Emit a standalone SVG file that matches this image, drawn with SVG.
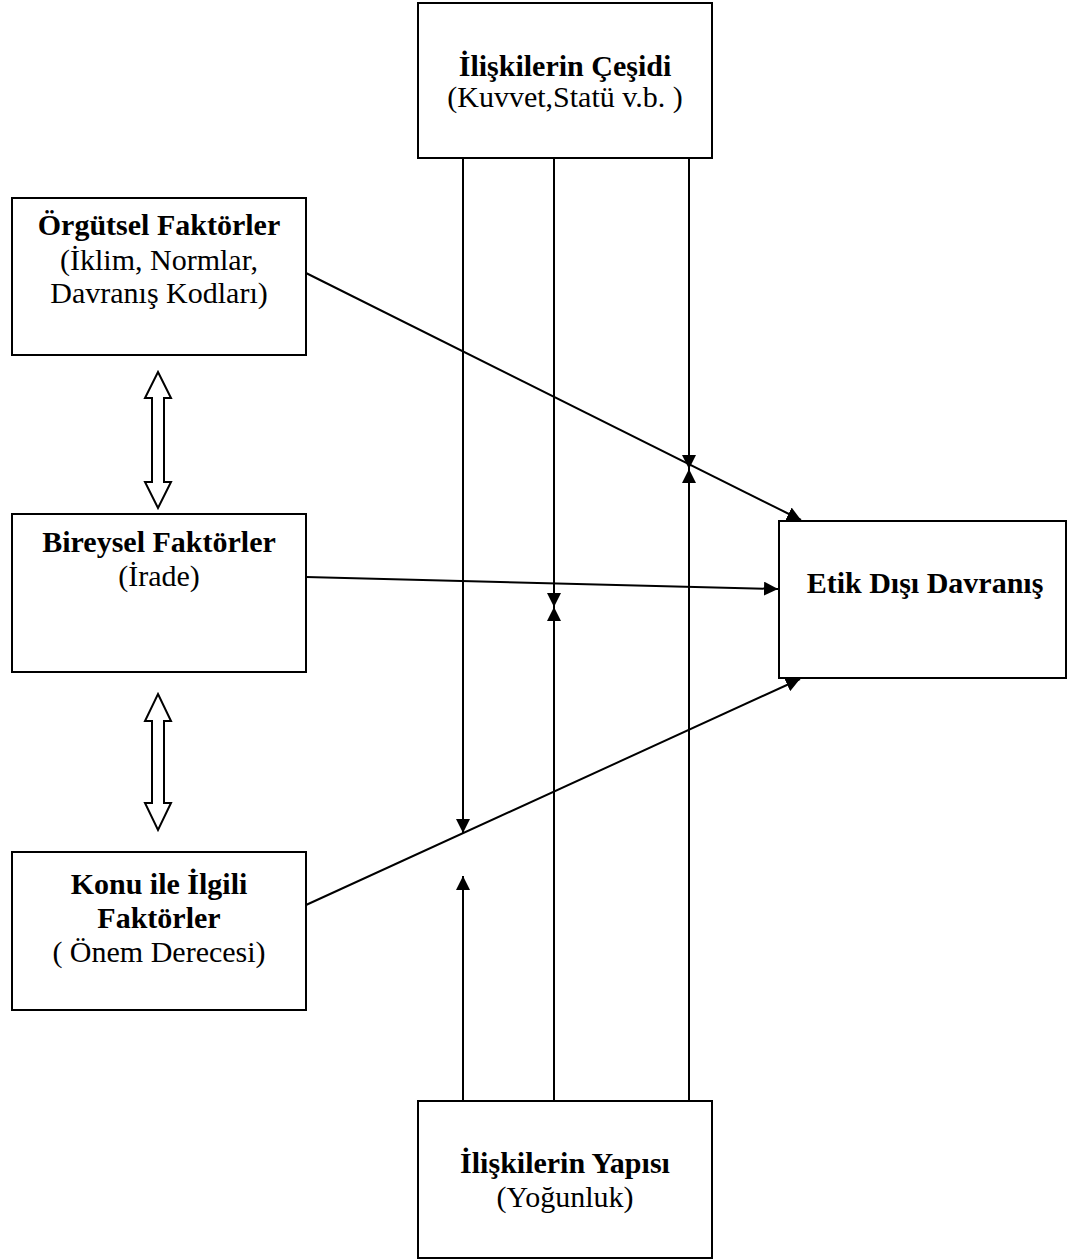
<svg xmlns="http://www.w3.org/2000/svg" width="1068" height="1260" viewBox="0 0 1068 1260">
<style>
.box{fill:#fff;stroke:#000;stroke-width:2}
.t{font-family:"Liberation Serif","Times New Roman",serif;font-size:30px;fill:#000;text-anchor:middle}
.b{font-weight:bold}
.ln{stroke:#000;stroke-width:2;fill:none}
.dbl{fill:#fff;stroke:#000;stroke-width:2;stroke-linejoin:miter}
</style>
<defs>
<marker id="ah" markerUnits="userSpaceOnUse" markerWidth="15" markerHeight="14" refX="14" refY="7" orient="auto" viewBox="0 0 15 14">
<path d="M0,0 L14,7 L0,14 z" fill="#000"/>
</marker>
</defs>
<rect width="1068" height="1260" fill="#fff"/>
<g id="connectors">
<line class="ln" x1="463" y1="158" x2="463" y2="833" marker-end="url(#ah)"/>
<line class="ln" x1="463" y1="1101" x2="463" y2="876" marker-end="url(#ah)"/>
<line class="ln" x1="554" y1="158" x2="554" y2="607" marker-end="url(#ah)"/>
<line class="ln" x1="554" y1="1101" x2="554" y2="607" marker-end="url(#ah)"/>
<line class="ln" x1="689" y1="158" x2="689" y2="469" marker-end="url(#ah)"/>
<line class="ln" x1="689" y1="1101" x2="689" y2="469" marker-end="url(#ah)"/>
<line class="ln" x1="306" y1="273" x2="801" y2="520" marker-end="url(#ah)"/>
<line class="ln" x1="306" y1="577" x2="778" y2="589" marker-end="url(#ah)"/>
<line class="ln" x1="306" y1="905" x2="800" y2="679" marker-end="url(#ah)"/>
<polygon class="dbl" points="158,372 171,398 164,398 164,482 171,482 158,508 145,482 152,482 152,398 145,398"/>
<polygon class="dbl" points="158,694 171,721 164,721 164,803 171,803 158,830 145,803 152,803 152,721 145,721"/>
</g>
<g id="iliskilerin-cesidi">
<rect class="box" x="418" y="3" width="294" height="155"/>
<text class="t b" x="565" y="76">İlişkilerin Çeşidi</text>
<text class="t" x="565" y="107">(Kuvvet,Statü v.b. )</text>
</g>
<g id="orgutsel">
<rect class="box" x="12" y="198" width="294" height="157"/>
<text class="t b" x="159" y="235">Örgütsel Faktörler</text>
<text class="t" x="159" y="270">(İklim, Normlar,</text>
<text class="t" x="159" y="303">Davranış Kodları)</text>
</g>
<g id="bireysel">
<rect class="box" x="12" y="514" width="294" height="158"/>
<text class="t b" x="159" y="552">Bireysel Faktörler</text>
<text class="t" x="159" y="586">(İrade)</text>
</g>
<g id="konu">
<rect class="box" x="12" y="852" width="294" height="158"/>
<text class="t b" x="159" y="894">Konu ile İlgili</text>
<text class="t b" x="159" y="928">Faktörler</text>
<text class="t" x="159" y="962">( Önem Derecesi)</text>
</g>
<g id="etik">
<rect class="box" x="779" y="521" width="287" height="157"/>
<text class="t b" x="925" y="593">Etik Dışı Davranış</text>
</g>
<g id="iliskilerin-yapisi">
<rect class="box" x="418" y="1101" width="294" height="157"/>
<text class="t b" x="565" y="1173">İlişkilerin Yapısı</text>
<text class="t" x="565" y="1207">(Yoğunluk)</text>
</g>
</svg>
